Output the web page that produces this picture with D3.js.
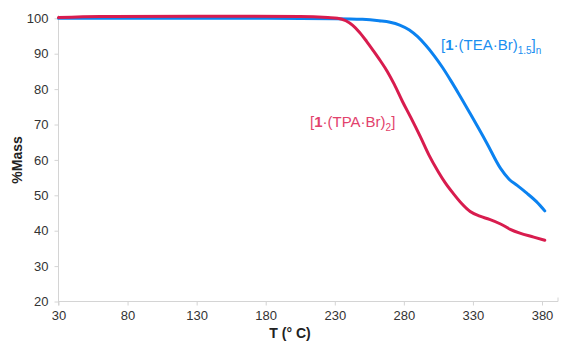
<!DOCTYPE html>
<html>
<head>
<meta charset="utf-8">
<script src="https://cdn.jsdelivr.net/npm/d3@7"></script>
<style>
  body { margin: 0; background: #fff; }
  svg { font-family: "Liberation Sans", Arial, sans-serif; }
</style>
</head>
<body>
<div id="chart"></div>
<script>
// TGA traces
const tempTEA = [30, 60, 120, 180, 230, 250, 262, 270, 277, 284, 290, 296, 302, 308, 314, 320, 328, 340, 350, 356, 362, 369, 376, 382];
const massTEA = [100, 100, 100, 100, 99.9, 99.7, 99.3, 98.9, 98.1, 96.7, 94.8, 92.3, 89.4, 86.1, 82.4, 78.5, 73.1, 64.8, 57.6, 54.6, 52.8, 50.6, 48.2, 45.6];

const tempTPA = [30, 60, 130, 205, 225, 232, 238, 243, 248, 253, 258, 263, 268, 273, 279, 285, 292, 298, 305, 310, 316, 322, 328, 335, 342, 350, 357, 364, 374, 382];
const massTPA = [100.2, 100.5, 100.6, 100.5, 100.2, 100, 99.3, 98, 96, 93.5, 90.8, 88, 85, 81.4, 76.5, 72, 66.5, 61.5, 56.6, 53.5, 50.4, 47.6, 45.4, 44.1, 43.2, 41.9, 40.4, 39.3, 38.2, 37.3];

const xTicks = [30, 80, 130, 180, 230, 280, 330, 380];
const yTicks = [20, 30, 40, 50, 60, 70, 80, 90, 100];

const config = {
    width: 570,
    height: 342,
    left: 58.5,
    right: 558,
    top: 18.3,
    bottom: 301.5,
    axisColor: '#d4d4d4',
    blue: '#0b82f0',
    red: '#d81c4e'
};

const svg = d3.select('#chart')
    .append('svg')
    .attr('width', config.width)
    .attr('height', config.height);

// axis runs a bit past the last labelled tick, like the original
const x = d3.scaleLinear()
    .domain([30, 380])
    .range([config.left, 542]);
const y = d3.scaleLinear()
    .domain([20, 100])
    .range([config.bottom, config.top]);

// x axis
const xAxis = svg.append('g')
    .attr('transform', `translate(0,${config.bottom})`)
    .call(d3.axisBottom(x).tickValues(xTicks).tickSizeInner(4).tickSizeOuter(0).tickPadding(5));
xAxis.select('.domain').remove();
xAxis.append('line')
    .attr('x1', config.left).attr('x2', config.right)
    .attr('stroke', config.axisColor);
xAxis.append('line')
    .attr('x1', config.right).attr('x2', config.right)
    .attr('y1', 0).attr('y2', -4)
    .attr('stroke', config.axisColor);

// y axis
const yAxis = svg.append('g')
    .attr('transform', `translate(${config.left},0)`)
    .call(d3.axisLeft(y).tickValues(yTicks).tickSizeInner(4).tickSizeOuter(0).tickPadding(6));
yAxis.select('.domain').remove();
yAxis.append('line')
    .attr('y1', config.top - 3).attr('y2', config.bottom + 4)
    .attr('stroke', config.axisColor);

svg.selectAll('.tick line').attr('stroke', config.axisColor);
svg.selectAll('.tick text')
    .attr('fill', '#333')
    .style('font-size', '13px');

// axis titles
svg.append('text')
    .attr('x', 290)
    .attr('y', 338)
    .attr('text-anchor', 'middle')
    .style('font-size', '14px')
    .style('font-weight', 'bold')
    .attr('fill', '#222')
    .text('T (° C)');

svg.append('text')
    .attr('transform', 'translate(22,160) rotate(-90)')
    .attr('text-anchor', 'middle')
    .style('font-size', '14px')
    .style('font-weight', 'bold')
    .attr('fill', '#222')
    .text('%Mass');

// curves
const line = d3.line()
    .x(d => x(d[0]))
    .y(d => y(d[1]))
    .curve(d3.curveMonotoneX);

svg.append('path')
    .datum(d3.zip(tempTEA, massTEA))
    .attr('fill', 'none')
    .attr('stroke', config.blue)
    .attr('stroke-width', 3)
    .attr('stroke-linecap', 'round')
    .attr('d', line);

svg.append('path')
    .datum(d3.zip(tempTPA, massTPA))
    .attr('fill', 'none')
    .attr('stroke', config.red)
    .attr('stroke-width', 3)
    .attr('stroke-linecap', 'round')
    .attr('d', line);

// series labels
const teaLabel = svg.append('text')
    .attr('x', 441)
    .attr('y', 50)
    .attr('fill', '#1b8ff0')
    .style('font-size', '15px');
teaLabel.append('tspan').text('[');
teaLabel.append('tspan').style('font-weight', 'bold').text('1');
teaLabel.append('tspan').text('·(TEA·Br)');
teaLabel.append('tspan').attr('dy', 4).style('font-size', '10px').text('1.5');
teaLabel.append('tspan').attr('dy', -4).text(']');
teaLabel.append('tspan').attr('dy', 4).style('font-size', '10px').text('n');

const tpaLabel = svg.append('text')
    .attr('x', 310)
    .attr('y', 127)
    .attr('fill', '#e2426c')
    .style('font-size', '15px');
tpaLabel.append('tspan').text('[');
tpaLabel.append('tspan').style('font-weight', 'bold').text('1');
tpaLabel.append('tspan').text('·(TPA·Br)');
tpaLabel.append('tspan').attr('dy', 4).style('font-size', '10px').text('2');
tpaLabel.append('tspan').attr('dy', -4).text(']');
</script>
</body>
</html>
